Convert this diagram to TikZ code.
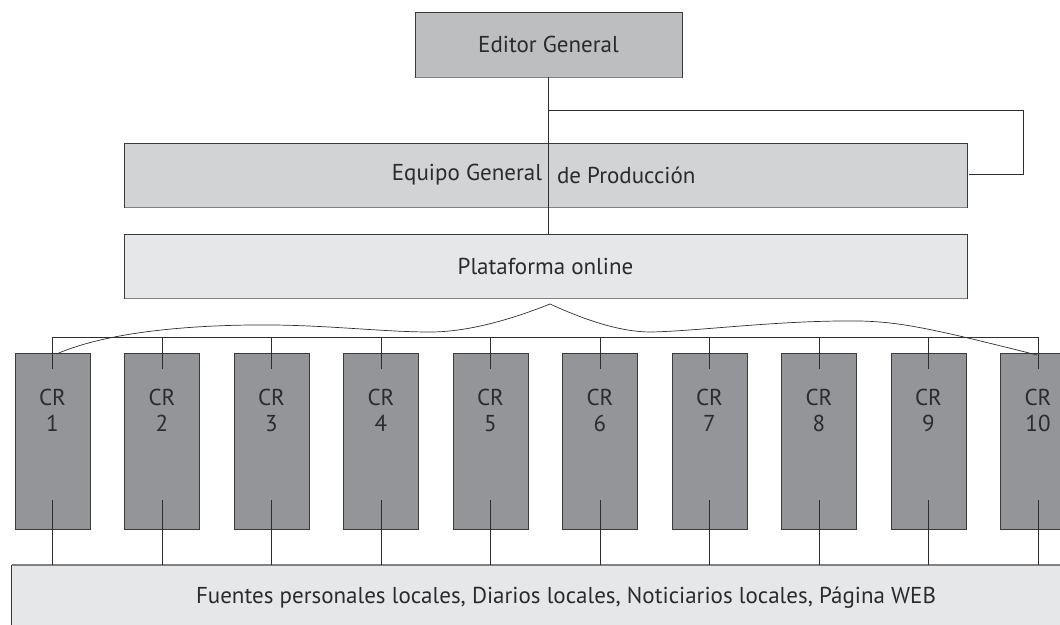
\documentclass[tikz,border=0pt]{standalone}
\usepackage{fontspec}
\setmainfont{PT Sans}
\usetikzlibrary{calc}
\definecolor{edfill}{HTML}{BCBEC0}
\definecolor{eqfill}{HTML}{D1D3D4}
\definecolor{plfill}{HTML}{E6E7E8}
\definecolor{crfill}{HTML}{939598}
\definecolor{ink}{HTML}{2B2B2D}
\definecolor{edgec}{HTML}{3A3A3A}
\definecolor{shadowc}{HTML}{808285}
\definecolor{wirec}{HTML}{2E2E2E}
\begin{document}
\begin{tikzpicture}[x=1pt,y=-1pt,
  box/.style={draw=edgec,line width=0.9pt,inner sep=0pt,outer sep=0pt,text=ink,
              font=\fontsize{23}{26}\selectfont},
  txt/.style={inner sep=0pt,outer sep=0pt,text=ink,font=\fontsize{23}{26}\selectfont},
  wire/.style={draw=wirec,line width=0.8pt},
  shade/.style={draw=shadowc,line width=1.8pt},
  crbox/.style={box,fill=crfill,minimum width=75pt,minimum height=176pt},
  crlabel/.style={txt,align=center}
]
\useasboundingbox (0,0) rectangle (1060,624);
\clip (0,0) rectangle (1060,624);

% top boxes
\node[box,fill=edfill,minimum width=267pt,minimum height=65pt] (ed) at (548.5,44.5) {Editor General};
\node[box,fill=eqfill,minimum width=843pt,minimum height=64pt] (eq) at (545.5,175) {};
\node[txt,anchor=east] (eqa) at (542,175) {Equipo General};
\node[txt,anchor=west] (eqb) at (557,175) {de Producción};
\node[box,fill=plfill,minimum width=843pt,minimum height=64pt] (pl) at (545.5,266) {Plataforma online};
\node[box,fill=plfill,minimum width=1110pt,minimum height=66pt] (src) at (566,598)
  {Fuentes personales locales, Diarios locales, Noticiarios locales, Página WEB};

\foreach \n in {ed,eq,pl}{
  \draw[shade] ($(\n.south west)+(0.5,0.4)$) -- ($(\n.south east)+(-0.5,0.4)$);
}
\draw[shade] ($(src.north west)+(0.5,0)$) -- (src.north east);

% CR boxes
\foreach \i in {1,...,10}{
  \pgfmathsetmacro{\cx}{52.5+109.5*(\i-1)}
  \node[crbox] (cr\i) at (\cx,441) {};
  \node[crlabel] (crl\i) at (\cx,410) {CR\\\i};
}

% main spine and side bracket
\coordinate (brA) at (ed.south |- 0,110);
\coordinate (brB) at (1023,110);
\coordinate (brC) at (1023,174);
\coordinate (brD) at ($(eq.east)+(2,-1)$);
\draw[wire] (ed.south) -- (ed.south |- pl.north);
\draw[wire] (brA) -- (brB) -- (brC) -- (brD);

% bus to CR boxes
\draw[wire] ($(cr1.north)+(0,-16)$) -- ($(cr10.north)+(0,-16)$);
\foreach \i in {1,...,10}{
  \draw[wire] ($(cr\i.north)+(0,-16)$) -- ($(cr\i.north)+(0,16)$);
  \draw[wire] ($(cr\i.south)+(0,-29)$) -- (cr\i.south |- src.north);
}

% brace from the platform to CR 1 ... CR 10
\coordinate (tip) at ($(pl.south)+(4.5,6)$);
\coordinate (bl) at ($(cr1.north)+(4,1)$);
\coordinate (br) at ($(cr10.north)+(-1,2)$);
\draw[wire,line width=0.7pt] (tip) .. controls (515,318) and (470,332) .. (430,332)
   .. controls (380,332) and (320,324) .. (250,325)
   .. controls (170,326) and (100,335) .. (bl);
\draw[wire,line width=0.7pt] (tip) .. controls (585,320) and (620,332) .. (651,332)
   .. controls (700,331) and (780,320) .. (860,321)
   .. controls (900,322) and (930,328) .. (br);
\end{tikzpicture}
\end{document}
